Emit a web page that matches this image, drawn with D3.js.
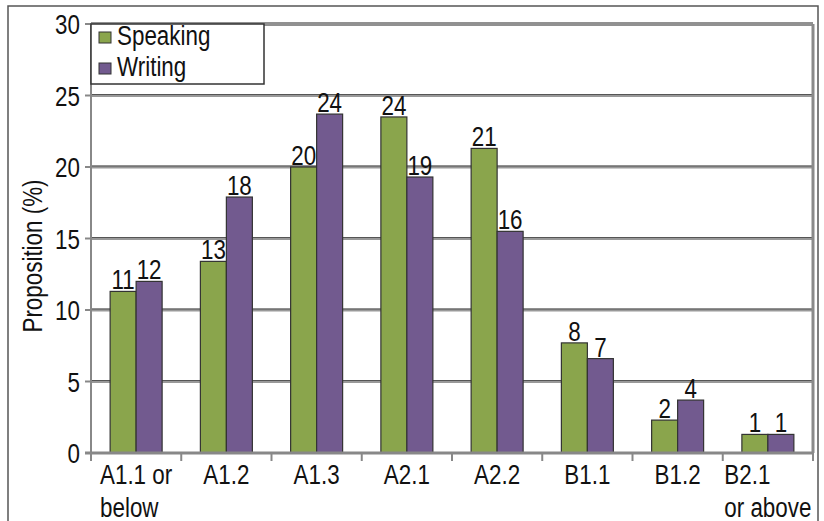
<!DOCTYPE html>
<html>
<head>
<meta charset="utf-8">
<script src="https://cdn.jsdelivr.net/npm/d3@7"></script>
<style>
  body { margin: 0; background: #fff; }
  text { font-family: "Liberation Sans", Arial, sans-serif; fill: #111; }
</style>
</head>
<body>
<svg id="chart" width="824" height="521"></svg>
<script>
// categories and values
var categories = ["A1.1 or below", "A1.2", "A1.3", "A2.1", "A2.2", "B1.1", "B1.2", "B2.1 or above"];
var catLines = [["A1.1 or", "below"], ["A1.2"], ["A1.3"], ["A2.1"], ["A2.2"], ["B1.1"], ["B1.2"], ["B2.1", "or above"]];
var series = ["Speaking", "Writing"];
var speaking = [11.3, 13.4, 20.0, 23.5, 21.3, 7.7, 2.3, 1.3];
var writing = [12.0, 17.9, 23.7, 19.3, 15.5, 6.6, 3.7, 1.3];
var labelsSpeaking = [11, 13, 20, 24, 21, 8, 2, 1];
var labelsWriting = [12, 18, 24, 19, 16, 7, 4, 1];
var yTicks = [0, 5, 10, 15, 20, 25, 30];

var colors = { Speaking: "#8aa54c", Writing: "#725a8f" };
var svg = d3.select("#chart");

// outer frame
svg.append("rect").attr("x", 8).attr("y", 6).attr("width", 810).attr("height", 540)
  .attr("fill", "none").attr("stroke", "#555").attr("stroke-width", 1.5);

var pLeft = 91, pRight = 813, pTop = 24, pBottom = 453;
var x = d3.scaleBand().domain(categories).range([pLeft, pRight]).padding(0);
var xs = d3.scaleBand().domain(series).range([0, x.bandwidth()]).paddingInner(0).paddingOuter(0.736);
var y = d3.scaleLinear().domain([0, 30]).range([pBottom, pTop]);

var sx = 0.8; // the reference type is condensed
var fs = "28px";
function narrow(sel, tx, ty) {
  sel.attr("transform", "translate(" + tx + "," + ty + ") scale(" + sx + ",1)");
}

// gridlines
yTicks.filter(function (t) { return t > 0 && t < 30; }).forEach(function (t) {
  svg.append("line").attr("x1", pLeft).attr("x2", pRight).attr("y1", y(t)).attr("y2", y(t))
    .attr("stroke", "#999").attr("stroke-width", 3);
  svg.append("line").attr("x1", pLeft).attr("x2", pRight).attr("y1", y(t) - 1).attr("y2", y(t) - 1)
    .attr("stroke", "#555").attr("stroke-width", 1);
});
// top border (double line)
svg.append("line").attr("x1", pLeft).attr("x2", pRight).attr("y1", pTop - 1).attr("y2", pTop - 1)
  .attr("stroke", "#222").attr("stroke-width", 1);
svg.append("line").attr("x1", pLeft).attr("x2", pRight).attr("y1", pTop + 1).attr("y2", pTop + 1)
  .attr("stroke", "#222").attr("stroke-width", 1);
// right border
svg.append("line").attr("x1", pRight).attr("x2", pRight).attr("y1", pTop).attr("y2", pBottom)
  .attr("stroke", "#8a8a8a").attr("stroke-width", 3);

// bars
var rows = categories.map(function (c, i) {
  return { cat: c, vals: [
    { s: "Speaking", v: speaking[i], lab: labelsSpeaking[i] },
    { s: "Writing", v: writing[i], lab: labelsWriting[i] }
  ] };
});

var g = svg.selectAll("g.cat").data(rows).join("g").attr("class", "cat")
  .attr("transform", function (d) { return "translate(" + x(d.cat) + ",0)"; });

g.selectAll("rect").data(function (d) { return d.vals; }).join("rect")
  .attr("x", function (d) { return xs(d.s); })
  .attr("y", function (d) { return y(d.v); })
  .attr("width", xs.bandwidth())
  .attr("height", function (d) { return pBottom - y(d.v); })
  .attr("fill", function (d) { return colors[d.s]; })
  .attr("stroke", "#333").attr("stroke-width", 1.2);

g.selectAll("text.val").data(function (d) { return d.vals; }).join("text")
  .attr("class", "val")
  .attr("text-anchor", "middle")
  .style("font-size", fs)
  .text(function (d) { return d.lab; })
  .each(function (d) { narrow(d3.select(this), xs(d.s) + xs.bandwidth() / 2, y(d.v) - 2); });

// axes lines
svg.append("line").attr("x1", pLeft).attr("x2", pLeft).attr("y1", pTop).attr("y2", pBottom + 8)
  .attr("stroke", "#888").attr("stroke-width", 2);
svg.append("line").attr("x1", pLeft - 6).attr("x2", pRight).attr("y1", pBottom).attr("y2", pBottom)
  .attr("stroke", "#888").attr("stroke-width", 3);

// y ticks
yTicks.forEach(function (t) {
  svg.append("line").attr("x1", pLeft - 6).attr("x2", pLeft).attr("y1", y(t)).attr("y2", y(t))
    .attr("stroke", "#888").attr("stroke-width", 2);
  var tx = svg.append("text").attr("text-anchor", "end").attr("dy", "0.36em")
    .style("font-size", fs).text(t);
  narrow(tx, 80, y(t));
});

// x ticks
categories.forEach(function (c) {
  var xx = x(c);
  svg.append("line").attr("x1", xx).attr("x2", xx).attr("y1", pBottom).attr("y2", pBottom + 8)
    .attr("stroke", "#888").attr("stroke-width", 2);
});
svg.append("line").attr("x1", pRight).attr("x2", pRight).attr("y1", pBottom).attr("y2", pBottom + 8)
  .attr("stroke", "#888").attr("stroke-width", 2);

// x labels: left-aligned block centered in band
categories.forEach(function (c, i) {
  var lines = catLines[i];
  var grp = svg.append("g");
  var tmp = grp.append("text").style("font-size", fs);
  var widths = lines.map(function (l) { tmp.text(l); return tmp.node().getComputedTextLength() * sx; });
  tmp.remove();
  var w = d3.max(widths);
  var cx = x(c) + x.bandwidth() / 2;
  var startX = lines.length > 1 ? cx - w / 2 : null;
  lines.forEach(function (l, j) {
    var t = grp.append("text").style("font-size", fs).text(l)
      .attr("text-anchor", lines.length > 1 ? "start" : "middle");
    narrow(t, lines.length > 1 ? startX : cx, 484 + j * 33);
  });
});

// y axis title
svg.append("text").attr("text-anchor", "middle").style("font-size", fs)
  .attr("transform", "translate(42,256) rotate(-90) scale(" + sx + ",1)")
  .text("Proposition (%)");

// legend
var lg = svg.append("g");
lg.append("rect").attr("x", pLeft).attr("y", pTop).attr("width", 173).attr("height", 60)
  .attr("fill", "#fff").attr("stroke", "#333").attr("stroke-width", 1.5);
series.forEach(function (s, i) {
  var yy = 32 + i * 31;
  lg.append("rect").attr("x", 99).attr("y", yy).attr("width", 12).attr("height", 11)
    .attr("fill", colors[s]).attr("stroke", "#333").attr("stroke-width", 1);
  var t = lg.append("text").style("font-size", fs).text(s);
  narrow(t, 117, yy + 13);
});
</script>
</body>
</html>
